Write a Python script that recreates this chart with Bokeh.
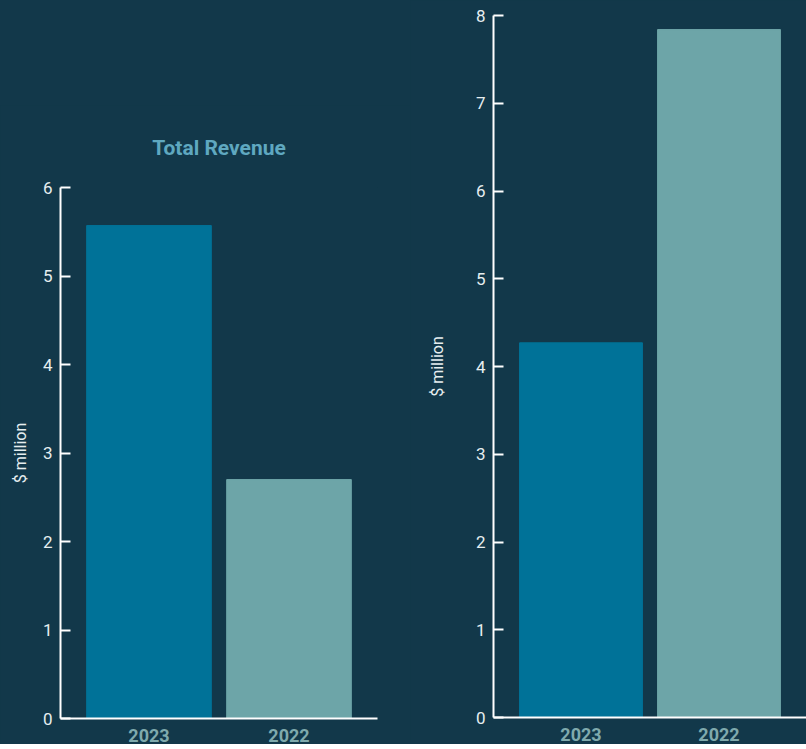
from bokeh.plotting import figure
from bokeh.layouts import row, column
from bokeh.models import FactorRange, Range1d, ColumnDataSource, Spacer
from bokeh.embed import file_html
from bokeh.resources import INLINE

years = ["2023", "2022"]
left_values = [5.57, 2.70]
right_values = [4.27, 7.84]
bar_colors = ["#007298", "#6da5a8"]
left_title = "Total Revenue"
y_label = "$ million"

BG = "#12384a"
FONT = "Roboto"


def make_fig(values, ymax, width, height, border_left, border_right, border_top, pad,
             label_standoff, title=None):
    p = figure(
        x_range=FactorRange(factors=years, range_padding=pad),
        y_range=Range1d(0, ymax),
        width=width, height=height,
        output_backend="svg", toolbar_location=None,
        background_fill_color=BG, border_fill_color=BG,
        min_border_left=border_left, min_border_right=border_right,
        min_border_top=border_top, min_border_bottom=20,
        title=title,
    )
    src = ColumnDataSource(dict(year=years, value=values, color=bar_colors))
    p.vbar(x="year", top="value", width=0.89, color="color", source=src)
    p.outline_line_color = None
    p.xgrid.visible = False
    p.ygrid.visible = False
    for ax in (p.xaxis, p.yaxis):
        ax.axis_line_color = "white"
        ax.axis_line_width = 2
        ax.minor_tick_line_color = None
    p.xaxis.major_tick_line_color = None
    p.xaxis.major_label_text_color = "#7faaad"
    p.xaxis.major_label_text_font = FONT
    p.xaxis.major_label_text_font_style = "bold"
    p.xaxis.major_label_text_font_size = "18px"
    p.xaxis.major_label_standoff = 4
    p.yaxis.major_tick_line_color = "white"
    p.yaxis.major_tick_line_width = 2
    p.yaxis.major_tick_in = 10
    p.yaxis.major_tick_out = 0
    p.yaxis.major_label_text_color = "#e6eef0"
    p.yaxis.major_label_text_font = FONT
    p.yaxis.major_label_text_font_size = "17px"
    p.yaxis.major_label_standoff = 4
    p.yaxis.axis_label = y_label
    p.yaxis.axis_label_text_color = "#e6eef0"
    p.yaxis.axis_label_text_font = FONT
    p.yaxis.axis_label_text_font_style = "normal"
    p.yaxis.axis_label_text_font_size = "16px"
    p.yaxis.axis_label_standoff = label_standoff
    p.yaxis.ticker.desired_num_ticks = int(ymax) + 1
    return p


p1 = make_fig(left_values, 6, 410, 639, 60, 33, 60, 0.132, 10, title=left_title)
p1.title.text_color = "#5fa8c0"
p1.title.text_font = FONT
p1.title.text_font_size = "21px"
p1.title.text_font_style = "bold"
p1.title.align = "center"
p1.title.standoff = 56

p2 = make_fig(right_values, 8, 396, 743, 83, 0, 15, 0.134, 26)

left = column(Spacer(height=105, width=410, styles={"background-color": BG}), p1, spacing=0)
layout = row(left, p2, spacing=0)
layout.styles = {"background-color": BG}

open("out.html", "w").write(file_html(layout, INLINE))
